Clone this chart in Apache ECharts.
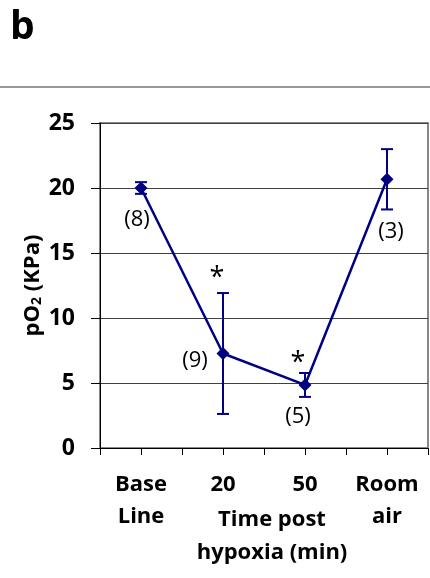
<!DOCTYPE html>
<html>
<head>
<meta charset="utf-8">
<script src="https://cdn.jsdelivr.net/npm/echarts@6/dist/echarts.min.js"></script>
<style>
  html, body { margin: 0; padding: 0; background: #fff; }
  #chart { width: 430px; height: 578px; }
</style>
</head>
<body>
<div id="chart"></div>
<script>
// data
const categories = ['Base\nLine', '20', '50', 'Room\nair']
const meanPO2 = [20.0, 7.27, 4.85, 20.67]
const errPO2 = [0.45, 4.65, 0.92, 2.32]
const nLabels = ['(8)', '(9)', '(5)', '(3)']
const starLabels = ['', '*', '*', '']

const navy = '#000080'
const fontFamily = '"Open Sans", sans-serif'

// where the labels sit relative to the point / top cap (px)
const nOffsets = [[-4, 32], [-28, 7], [-7, 32], [4, 52]]
const starOffsets = [[0, 0], [-6, -15], [-7, -10], [0, 0]]

const chart = echarts.init(document.getElementById('chart'))

const pts = meanPO2.map((m, i) => [i + 0.5, m])
const errData = meanPO2.map((m, i) => [i + 0.5, m - errPO2[i], m + errPO2[i]])

chart.setOption({
  animation: false,
  graphic: [
    { type: 'text', left: 10, top: 8, style: { text: 'b', font: 'bold 39px ' + fontFamily, fill: '#000' } },
    { type: 'line', shape: { x1: 0, y1: 87, x2: 430, y2: 87 }, style: { stroke: '#777', lineWidth: 1.5 } }
  ],
  grid: {
    left: 100, right: 2, top: 123, bottom: 130,
    outerBoundsMode: 'none',
    containLabel: false,
    show: true, borderColor: '#888', borderWidth: 2
  },
  xAxis: {
    type: 'value',
    min: 0, max: 4, interval: 0.5,
    name: 'Time post\nhypoxia (min)',
    nameLocation: 'middle',
    nameGap: 55,
    nameMoveOverlap: false,
    nameTextStyle: { fontFamily, fontWeight: 'bold', fontSize: 22, color: '#000', lineHeight: 33, padding: [0, 0, 0, 16] },
    axisLine: { lineStyle: { color: '#000', width: 1 } },
    axisTick: { show: true, length: 7, lineStyle: { color: '#000' } },
    splitLine: { show: false },
    axisLabel: {
      margin: 21,
      fontFamily, fontWeight: 'bold', fontSize: 22, color: '#000', lineHeight: 32,
      formatter: v => {
        const i = Math.floor(v)
        return v - i === 0.5 ? categories[i] : ''
      }
    }
  },
  yAxis: {
    type: 'value',
    min: 0, max: 25, interval: 5,
    name: 'pO{sub|2} (KPa)',
    nameLocation: 'middle',
    nameRotate: 90,
    nameGap: 56,
    nameMoveOverlap: false,
    nameTextStyle: {
      fontFamily, fontWeight: 'bold', fontSize: 22, color: '#000',
      rich: { sub: { fontFamily, fontWeight: 'bold', fontSize: 14, color: '#000', verticalAlign: 'bottom', padding: [8, 0, 0, 0] } }
    },
    axisLine: { show: true, lineStyle: { color: '#000', width: 1 } },
    axisTick: { show: true, length: 9, lineStyle: { color: '#000' } },
    splitLine: { show: true, lineStyle: { color: '#404040', width: 1 } },
    axisLabel: { margin: 25, fontFamily, fontWeight: 'bold', fontSize: 23, color: '#000' }
  },
  series: [
    {
      type: 'custom',
      name: 'error',
      data: errData,
      clip: false,
      z: 2,
      renderItem(params, api) {
        const lo = api.coord([api.value(0), api.value(1)])
        const hi = api.coord([api.value(0), api.value(2)])
        const w = 6
        const st = { stroke: navy, lineWidth: 2 }
        return {
          type: 'group',
          children: [
            { type: 'line', shape: { x1: lo[0], y1: lo[1], x2: hi[0], y2: hi[1] }, style: st },
            { type: 'line', shape: { x1: lo[0] - w, y1: lo[1], x2: lo[0] + w, y2: lo[1] }, style: st },
            { type: 'line', shape: { x1: hi[0] - w, y1: hi[1], x2: hi[0] + w, y2: hi[1] }, style: st }
          ]
        }
      }
    },
    {
      type: 'line',
      name: 'pO2',
      data: pts,
      z: 3,
      symbol: 'diamond',
      symbolSize: 13,
      itemStyle: { color: navy },
      lineStyle: { color: navy, width: 2.5 }
    },
    {
      type: 'custom',
      name: 'n',
      data: errData,
      clip: false,
      z: 4,
      renderItem(params, api) {
        const i = params.dataIndex
        const p = api.coord([api.value(0), meanPO2[i]])
        const top = api.coord([api.value(0), api.value(2)])
        const children = [{
          type: 'text',
          x: p[0] + nOffsets[i][0],
          y: p[1] + nOffsets[i][1],
          style: { text: nLabels[i], font: '22px ' + fontFamily, fill: '#000', align: 'center', verticalAlign: 'middle' }
        }]
        if (starLabels[i]) {
          children.push({
            type: 'text',
            x: top[0] + starOffsets[i][0],
            y: top[1] + starOffsets[i][1],
            style: { text: starLabels[i], font: '27px ' + fontFamily, fill: '#000', align: 'center', verticalAlign: 'middle' }
          })
        }
        return { type: 'group', children }
      }
    }
  ]
})
</script>
</body>
</html>
